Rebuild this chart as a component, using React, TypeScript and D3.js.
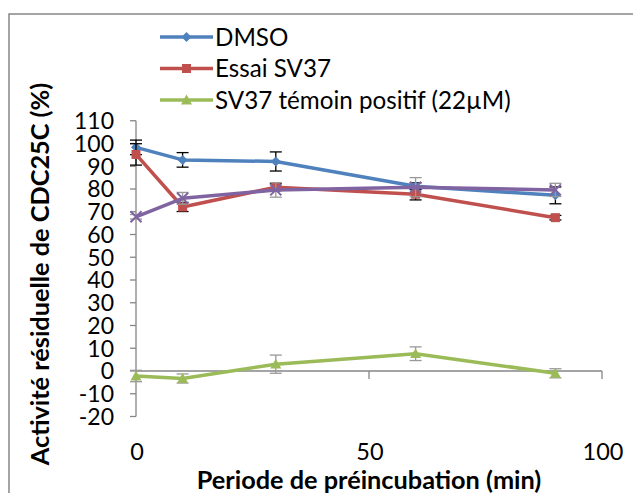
import React from "react";
import * as d3 from "d3";

const times = [0, 10, 30, 60, 90];
const dmso = [98.3, 92.8, 92.1, 81.2, 77.2];
const dmsoErr = [3.2, 3.2, 4.2, 1.5, 3.7];
const essai = [95.2, 72.1, 80.8, 77.7, 67.4];
const essaiErr = [4.7, 2.0, 1.5, 2.5, 1.0];
const temoin = [-2.2, -3.3, 3.0, 7.6, -1.0];
const temoinErr = [2.5, 2.0, 4.0, 3.0, 2.0];
const extra = [67.8, 75.9, 79.6, 80.8, 79.6];
const extraErr = [1.0, 2.6, 3.2, 4.2, 2.9];

const yTicks = [-20, -10, 0, 10, 20, 30, 40, 50, 60, 70, 80, 90, 100, 110];
const xTicks = [0, 50, 100];

const seriesNames = ["DMSO", "Essai SV37", "SV37 témoin positif (22µM)"];

type Series = {
  name: string;
  values: number[];
  err: number[];
  color: string;
  errColor: string;
  marker: string;
  legend: boolean;
};

const series: Series[] = [
  { name: seriesNames[0], values: dmso, err: dmsoErr, color: "#4F81BD", errColor: "#000", marker: "diamond", legend: true },
  { name: seriesNames[1], values: essai, err: essaiErr, color: "#C0504D", errColor: "#000", marker: "square", legend: true },
  { name: seriesNames[2], values: temoin, err: temoinErr, color: "#9BBB59", errColor: "#999", marker: "triangle", legend: true },
  { name: "", values: extra, err: extraErr, color: "#8064A2", errColor: "#999", marker: "x", legend: false },
];

const FONT = "Lato, 'Open Sans', sans-serif";

function Marker({ type, x, y, color }: { type: string; x: number; y: number; color: string }) {
  if (type === "diamond") {
    const r = 5;
    return <path d={`M${x},${y - r}L${x + r},${y}L${x},${y + r}L${x - r},${y}Z`} fill={color} />;
  }
  if (type === "square") {
    const r = 4.5;
    return <rect x={x - r} y={y - r} width={2 * r} height={2 * r} fill={color} />;
  }
  if (type === "triangle") {
    const r = 5.5;
    return <path d={`M${x},${y - r}L${x + r},${y + r * 0.8}L${x - r},${y + r * 0.8}Z`} fill={color} />;
  }
  const r = 5.5;
  return (
    <path d={`M${x - r},${y - r}L${x + r},${y + r}M${x - r},${y + r}L${x + r},${y - r}`} stroke={color} strokeWidth={2} fill="none" />
  );
}

export default function App() {
  const x = d3.scaleLinear().domain([0, 100]).range([136, 602]);
  const y = d3.scaleLinear().domain([-20, 110]).range([416.5, 120.75]);
  const line = d3
    .line<[number, number]>()
    .x((d) => x(d[0]))
    .y((d) => y(d[1]));
  const axisColor = "#868686";

  return (
    <svg
      width={633}
      height={493}
      style={{ position: "absolute", left: 0, top: 0, background: "#fff" }}
      fontFamily={FONT}
    >
      <rect x={9} y={14} width={640} height={500} fill="#fff" stroke={axisColor} strokeWidth={1.5} />

      {/* Y axis */}
      <line x1={x(0)} x2={x(0)} y1={y(-20)} y2={y(110)} stroke={axisColor} strokeWidth={1.3} />
      {yTicks.map((t) => (
        <g key={t}>
          <line x1={x(0) - 6} x2={x(0)} y1={y(t)} y2={y(t)} stroke={axisColor} strokeWidth={1.3} />
          <text x={114} y={y(t)} dy="0.36em" textAnchor="end" fontSize={23} fill="#000">
            {t}
          </text>
        </g>
      ))}

      {/* X axis */}
      <line x1={x(0)} x2={x(100)} y1={y(0)} y2={y(0)} stroke={axisColor} strokeWidth={1.3} />
      {xTicks.map((t) => (
        <g key={t}>
          <line x1={x(t)} x2={x(t)} y1={y(0)} y2={y(0) + 8} stroke={axisColor} strokeWidth={1.3} />
          <text x={x(t) + 1} y={460} textAnchor="middle" fontSize={23.5} fill="#000">
            {t}
          </text>
        </g>
      ))}

      {/* Titles */}
      <text x={369} y={489} textAnchor="middle" fontSize={25.3} fontWeight="bold" fill="#000">
        Periode de préincubation (min)
      </text>
      <text
        transform={`translate(49,274) rotate(-90)`}
        textAnchor="middle"
        fontSize={25.3}
        fontWeight="bold"
        fill="#000"
      >
        Activité résiduelle de CDC25C (%)
      </text>

      {/* Series */}
      {series.map((s, si) => {
        const pts = times.map((t, i) => [t, s.values[i]] as [number, number]);
        return (
          <g key={si}>
            {times.map((t, i) => {
              const cx = x(t);
              const top = y(s.values[i] + s.err[i]);
              const bot = y(s.values[i] - s.err[i]);
              return (
                <g key={i} stroke={s.errColor} strokeWidth={1.3}>
                  <line x1={cx} x2={cx} y1={top} y2={bot} />
                  <line x1={cx - 6} x2={cx + 6} y1={top} y2={top} />
                  <line x1={cx - 6} x2={cx + 6} y1={bot} y2={bot} />
                </g>
              );
            })}
            <path d={line(pts) || ""} fill="none" stroke={s.color} strokeWidth={3.5} strokeLinejoin="round" />
            {pts.map((p, i) => (
              <Marker key={i} type={s.marker} x={x(p[0])} y={y(p[1])} color={s.color} />
            ))}
          </g>
        );
      })}

      {/* Legend */}
      {series
        .filter((s) => s.legend)
        .map((s, i) => {
          const ly = 37 + i * 31.5;
          return (
            <g key={i}>
              <line x1={160} x2={213} y1={ly} y2={ly} stroke={s.color} strokeWidth={3.5} />
              <Marker type={s.marker} x={186.5} y={ly} color={s.color} />
              <text x={215} y={ly} dy="0.36em" fontSize={24.2} fill="#000">
                {s.name}
              </text>
            </g>
          );
        })}
    </svg>
  );
}
